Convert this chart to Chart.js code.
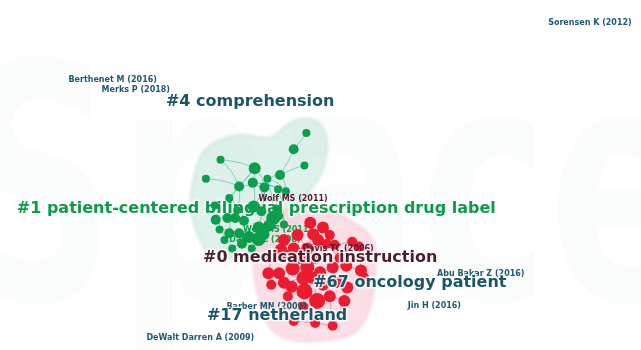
<!DOCTYPE html>
<html><head><meta charset="utf-8">
<script src="https://cdn.jsdelivr.net/npm/chart.js@4.4.1/dist/chart.umd.min.js"></script>
<style>html,body{margin:0;padding:0;background:#fff;}#wrap{width:641px;height:350px;position:relative}</style>
</head><body><div id="wrap"><canvas id="c"></canvas></div>
<script>
// ---- data (chart coordinates: x 0..641, y 0..350 top-down) ----
const greenX=[306,293,304,218,203,253,279,237,251,266,263,277,285,227,213,225,235,252,260,272,268,257,217,227,237,247,257,222,230,240,262,283,278,275,242,233,250,212];
const greenY=[131,148,165,159,179,168,175,187,183,179,188,190,192,199,222,220,212,208,213,220,228,230,232,236,236,240,242,243,252,247,237,227,218,210,223,220,252,207];
const greenR=[4,5,4,4,4,6,5,5,5,4,5,4,4,4,5,5,4,6,5,7,6,6,4,5,5,6,7,4,4,5,6,4,4,4,5,5,4,4];
const greenEdges=[[0,1],[1,6],[2,6],[3,5],[4,7],[5,8],[5,10],[6,9],[6,12],[7,10],[7,13],[8,11],[9,12],[10,17],[11,19],[12,33],[13,16],[13,14],[14,15],[15,35],[16,17],[17,18],[18,19],[19,20],[20,21],[21,25],[22,23],[23,24],[24,25],[25,26],[26,30],[27,28],[28,29],[29,36],[30,31],[31,32],[32,33],[34,35],[34,18],[21,24],[8,17],[10,18],[5,7],[37,14],[37,13],[16,34],[26,20],[9,19],[11,31],[7,16],[22,37],[24,29],[30,20],[33,19],[3,7],[5,13],[8,12],[10,21],[15,23],[27,22]];
const redX=[310,323,313,297,283,330,335,327,353,360,318,307,293,280,287,300,315,270,267,278,292,307,320,333,347,362,303,283,291,313,323,337,365,304,317,330,345,303,287,293,315,333,348,270,340];
const redY=[225,230,237,238,243,238,248,247,245,250,243,252,252,253,260,262,262,262,278,278,273,272,277,272,270,275,283,288,292,283,290,287,282,297,307,302,307,313,302,328,330,333,293,290,262];
const redR=[6,6,6,6,6,5,5,5,5,5,6,6,6,6,6,6,6,5,6,6,7,7,6,6,6,6,7,6,6,6,6,6,5,8,8,6,6,5,5,5,5,5,6,5,5];
const redEdges=[[0,1],[0,2],[0,3],[1,5],[2,10],[3,4],[3,12],[4,13],[5,6],[5,7],[6,8],[8,9],[7,10],[10,11],[11,12],[12,13],[13,14],[14,15],[15,16],[16,10],[17,13],[17,18],[18,19],[19,20],[20,21],[21,22],[22,23],[23,24],[24,25],[24,44],[44,8],[44,6],[26,21],[26,27],[27,28],[28,33],[33,34],[34,35],[35,36],[36,42],[42,31],[31,30],[30,22],[29,26],[29,30],[37,33],[37,39],[39,40],[40,41],[41,36],[38,28],[38,27],[43,18],[43,27],[16,21],[15,20],[14,20],[25,32],[32,42],[9,25],[11,16],[2,7],[1,6],[3,11],[22,29],[23,31],[34,40],[35,41],[2,11],[7,44],[16,23],[26,33],[29,34],[20,27]];
const greenHullX=[192,200,214,238,268,284,300,318,327,323,312,302,298,288,268,228,206,194,187];
const greenHullY=[172,152,140,133,136,124,116,120,140,170,188,203,226,252,262,263,256,236,205];
const redHullX=[262,290,322,350,368,377,376,372,360,340,300,274,262,254,252,255];
const redHullY=[218,211,210,222,235,255,282,312,336,346,349,340,320,290,262,236];
const clusterLabels=['#4 comprehension','#1 patient-centered bilingual prescription drug label','#0 medication instruction','#67 oncology patient','#17 netherland'];
const clusterLabelX=[162,9,200,313,204];
const clusterLabelY=[98,210,262,288,323];
const refLabels=['Sorensen K (2012)','Berthenet M (2016)','Merks P (2018)','Abu Bakar Z (2016)','Jin H (2016)','Barber MN (2009)','DeWalt Darren A (2009)','Wolf MS (2011)','Davis TC (2006)','Wolf MS (2011)','Davis TC (2008)'];
const refLabelX=[554,62,96,440,410,224,142,257,302,241,227];
const refLabelY=[16,75,86,279,312,313,346,200,252,233,243];

// ---- styles ----
const clusterColor=['#1a5666','#0c9a4c','#4a1e2d','#1a5666','#1a5666'];
const clusterUnderNodes=[false,true,false,false,false];
const refColor=['#1d5a70','#1d5a70','#1d5a70','#1d5a70','#1d5a70','#1d5a70','#1d5a70','#5a1a2c','#5a1a2c','#10a050','#10a050'];
const refUnderNodes=[false,false,false,false,false,false,false,false,false,true,true];

function pts(ch,xs,ys){const sx=ch.scales.x,sy=ch.scales.y;return xs.map((v,i)=>({x:sx.getPixelForValue(v),y:sy.getPixelForValue(ys[i])}));}
function smoothClosed(ctx,p){const n=p.length;ctx.beginPath();ctx.moveTo(p[0].x,p[0].y);
 for(let i=0;i<n;i++){const p0=p[(i-1+n)%n],p1=p[i],p2=p[(i+1)%n],p3=p[(i+2)%n];
 ctx.bezierCurveTo(p1.x+(p2.x-p0.x)/6,p1.y+(p2.y-p0.y)/6,p2.x-(p3.x-p1.x)/6,p2.y-(p3.y-p1.y)/6,p2.x,p2.y);}ctx.closePath();}
function drawLabel(ctx,text,x,y,size,color,halo){ctx.font='bold '+size+'px "DejaVu Sans"';ctx.textAlign='left';ctx.textBaseline='middle';
 if(halo){ctx.lineJoin='round';ctx.lineWidth=3;ctx.strokeStyle='rgba(255,255,255,0.85)';ctx.strokeText(text,x,y);}
 ctx.fillStyle=color;ctx.fillText(text,x,y);}

const netPlugin={id:'net',
 beforeDatasetsDraw(ch){const ctx=ch.ctx;const sx=ch.scales.x,sy=ch.scales.y;
  // faint watermark
  ctx.save();ctx.font='bold 330px "DejaVu Sans"';ctx.textBaseline='alphabetic';ctx.fillStyle='rgba(40,80,90,0.018)';
  ctx.translate(-40,300);ctx.scale(0.66,1);ctx.fillText('Space',0,0);ctx.restore();
  // hulls
  ctx.save();ctx.filter='blur(1.5px)';
  smoothClosed(ctx,pts(ch,greenHullX,greenHullY));ctx.fillStyle='rgba(200,232,222,0.6)';ctx.fill();ctx.strokeStyle='rgba(150,210,190,0.35)';ctx.lineWidth=2;ctx.stroke();
  smoothClosed(ctx,pts(ch,redHullX,redHullY));ctx.fillStyle='rgba(250,205,218,0.65)';ctx.fill();ctx.strokeStyle='rgba(240,170,190,0.35)';ctx.lineWidth=2;ctx.stroke();
  ctx.restore();
  // edges
  ctx.save();
  const gp=pts(ch,greenX,greenY),rp=pts(ch,redX,redY);
  ctx.strokeStyle='rgba(40,160,140,0.55)';ctx.lineWidth=0.8;
  greenEdges.forEach(([a,b])=>{ctx.beginPath();ctx.moveTo(gp[a].x,gp[a].y);ctx.quadraticCurveTo((gp[a].x+gp[b].x)/2+3,(gp[a].y+gp[b].y)/2-3,gp[b].x,gp[b].y);ctx.stroke();});
  ctx.strokeStyle='rgba(225,40,120,0.55)';
  redEdges.forEach(([a,b])=>{ctx.beginPath();ctx.moveTo(rp[a].x,rp[a].y);ctx.lineTo(rp[b].x,rp[b].y);ctx.stroke();});
  // labels under nodes
  clusterLabels.forEach((t,i)=>{if(clusterUnderNodes[i])drawLabel(ctx,t,sx.getPixelForValue(clusterLabelX[i]),sy.getPixelForValue(clusterLabelY[i]),16,clusterColor[i],true);});
  refLabels.forEach((t,i)=>{if(refUnderNodes[i])drawLabel(ctx,t,sx.getPixelForValue(refLabelX[i]),sy.getPixelForValue(refLabelY[i]),8,refColor[i],false);});
  ctx.restore();},
 afterDatasetsDraw(ch){const ctx=ch.ctx;const sx=ch.scales.x,sy=ch.scales.y;ctx.save();
  refLabels.forEach((t,i)=>{if(!refUnderNodes[i])drawLabel(ctx,t,sx.getPixelForValue(refLabelX[i]),sy.getPixelForValue(refLabelY[i]),8,refColor[i],false);});
  clusterLabels.forEach((t,i)=>{if(!clusterUnderNodes[i])drawLabel(ctx,t,sx.getPixelForValue(clusterLabelX[i]),sy.getPixelForValue(clusterLabelY[i]),16,clusterColor[i],true);});
  ctx.restore();}
};

const toPts=(xs,ys,rs)=>xs.map((v,i)=>({x:v,y:ys[i],r:rs[i]}));
new Chart(document.getElementById('c'),{
 type:'bubble',
 data:{datasets:[
  {label:'green',data:toPts(greenX,greenY,greenR),backgroundColor:'#0b9e4d',borderWidth:0},
  {label:'red',data:toPts(redX,redY,redR),backgroundColor:'#ec1b2d',borderWidth:0}
 ]},
 options:{responsive:true,maintainAspectRatio:false,animation:false,devicePixelRatio:1,
  layout:{padding:0},
  plugins:{legend:{display:false},tooltip:{enabled:false}},
  scales:{x:{type:'linear',min:0,max:641,display:false},y:{type:'linear',min:0,max:350,reverse:true,display:false}}},
 plugins:[netPlugin]
});
</script></body></html>
